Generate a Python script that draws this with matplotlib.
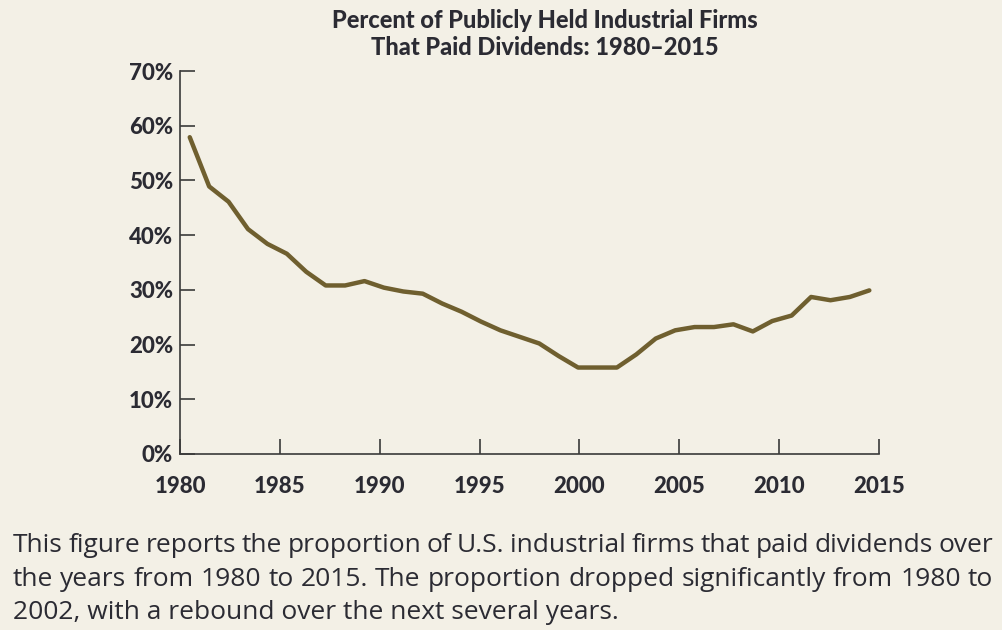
"""Percent of publicly held industrial firms that paid dividends, 1980-2015."""

import matplotlib

matplotlib.use("Agg")
import matplotlib.pyplot as plt
import numpy as np

BG = "#f3f0e6"
LINE = "#6f5f2f"
INK = "#2b2b33"

years = np.arange(1980, 2016)
pct_paying = [
    57.9, 48.9, 46.1, 41.1, 38.4, 36.6, 33.3, 30.8, 30.8, 31.6,
    30.4, 29.7, 29.3, 27.5, 26.0, 24.2, 22.6, 21.4, 20.2, 17.9,
    15.8, 15.8, 15.8, 18.2, 21.1, 22.6, 23.2, 23.2, 23.7, 22.4,
    24.3, 25.3, 28.7, 28.1, 28.7, 29.9,
]
tick_years = [1980, 1985, 1990, 1995, 2000, 2005, 2010, 2015]
y_ticks = [0, 10, 20, 30, 40, 50, 60, 70]

title = "Percent of Publicly Held Industrial Firms\nThat Paid Dividends: 1980\u20132015"
caption = [
    "This figure reports the proportion of U.S. industrial firms that paid dividends over",
    "the years from 1980 to 2015. The proportion dropped significantly from 1980 to",
    "2002, with a rebound over the next several years.",
]


def justified_line(fig, text, x0, x1, y, **kw):
    words = text.split()
    r = fig.canvas.get_renderer()
    inv = fig.transFigure.inverted()
    widths = []
    for w in words:
        t = fig.text(0, 0, w, **kw)
        bb = t.get_window_extent(renderer=r)
        widths.append(inv.transform((bb.width, 0))[0] - inv.transform((0, 0))[0])
        t.remove()
    gap = (x1 - x0 - sum(widths)) / (len(words) - 1)
    x = x0
    for w, wd in zip(words, widths):
        fig.text(x, y, w, ha="left", va="baseline", **kw)
        x += wd + gap


fig = plt.figure(figsize=(10.03, 6.30), dpi=100, facecolor=BG)
ax = fig.add_axes([0.1795, 0.2794, 0.6969, 0.6079], facecolor=BG)

ax.plot(years, pct_paying, color=LINE, lw=3.2, solid_capstyle="round",
        solid_joinstyle="round")

# data points run a little tighter than the labelled year ticks
ax.set_xlim(1979.5, 2015.5)
ax.set_xticks(np.linspace(1979.5, 2015.5, len(tick_years)))
ax.set_xticklabels([str(t) for t in tick_years])
ax.set_ylim(0, 70)
ax.set_yticks(y_ticks)
ax.set_yticklabels([f"{v}%" for v in y_ticks])

for s in ("top", "right"):
    ax.spines[s].set_visible(False)
for s in ("left", "bottom"):
    ax.spines[s].set_color("#3a3a3a")
    ax.spines[s].set_linewidth(1.2)
ax.tick_params(direction="in", length=11, width=1.2, color="#3a3a3a",
               labelcolor=INK)
ax.tick_params(axis="x", pad=16)
ax.tick_params(axis="y", pad=5)
for lab in ax.get_xticklabels() + ax.get_yticklabels():
    lab.set_fontfamily("Lato")
    lab.set_fontweight("black")
    lab.set_fontsize(16)

fig.text(0.543, 0.985, title, ha="center", va="top", family="Lato",
         weight="black", fontsize=17, color=INK, linespacing=1.2)

cap_kw = dict(family="Open Sans", fontsize=19, color=INK)
base_y = [1 - 552 / 630, 1 - 586 / 630, 1 - 619 / 630]
for i, line in enumerate(caption):
    if i < len(caption) - 1:
        justified_line(fig, line, 13 / 1003, 993 / 1003, base_y[i], **cap_kw)
    else:
        fig.text(13 / 1003, base_y[i], line, ha="left", va="baseline", **cap_kw)

fig.savefig("out.png", dpi=100, facecolor=BG)
